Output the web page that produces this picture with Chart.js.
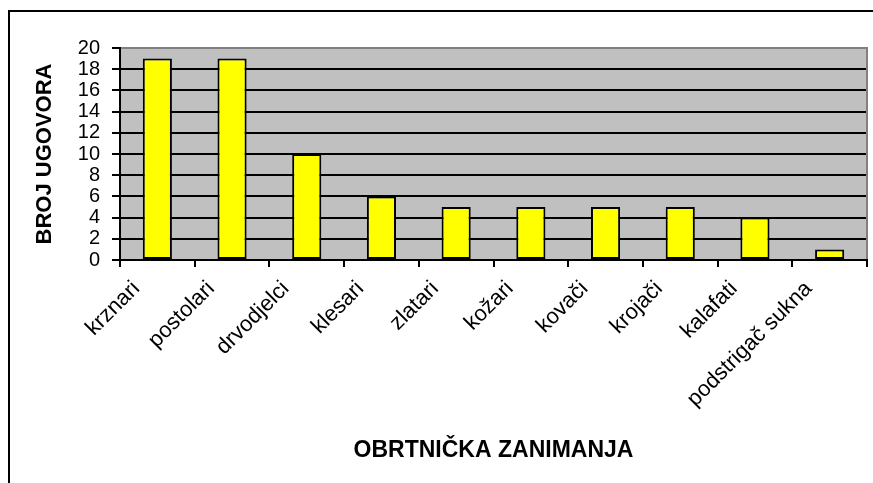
<!DOCTYPE html>
<html>
<head>
<meta charset="utf-8">
<script src="https://cdn.jsdelivr.net/npm/chart.js@4"></script>
<style>
    html, body { margin: 0; padding: 0; background: #fff; }
    canvas { display: block; }
</style>
</head>
<body>
<canvas id="myBarChart" width="873" height="483"></canvas>
<script>
const categories = ['krznari', 'postolari', 'drvodjelci', 'klesari', 'zlatari', 'kožari', 'kovači', 'krojači', 'kalafati', 'podstrigač sukna'];
const contracts = [19, 19, 10, 6, 5, 5, 5, 5, 4, 1];
const yTicks = [0, 2, 4, 6, 8, 10, 12, 14, 16, 18, 20];
const yTitle = 'BROJ UGOVORA';
const xTitle = 'OBRTNIČKA ZANIMANJA';

// gray plot background, gray top/right edge and the outer frame
const plotFrame = {
    id: 'plotFrame',
    beforeDraw: (chart) => {
        const { ctx, chartArea: a } = chart;
        ctx.save();
        ctx.fillStyle = '#000';
        ctx.fillRect(8, 10, 2, chart.height - 10);
        ctx.fillRect(8, 10, chart.width - 8, 2);
        ctx.fillStyle = '#c0c0c0';
        ctx.fillRect(a.left, a.top, a.right - a.left, a.bottom - a.top);
        ctx.restore();
    },
    afterDatasetsDraw: (chart) => {
        const { ctx, chartArea: a } = chart;
        ctx.save();
        ctx.strokeStyle = '#808080';
        ctx.lineWidth = 2;
        ctx.beginPath();
        ctx.moveTo(a.left + 1, a.top);
        ctx.lineTo(a.right, a.top);
        ctx.lineTo(a.right, a.bottom - 1);
        ctx.stroke();
        ctx.restore();
    },
};

const ctx = document.getElementById('myBarChart').getContext('2d');
new Chart(ctx, {
    type: 'bar',
    data: {
        labels: categories,
        datasets: [
            {
                data: contracts,
                backgroundColor: '#ffff00',
                borderColor: '#000',
                borderWidth: 2,
                borderSkipped: false,
                categoryPercentage: 1,
                barPercentage: 0.39,
            },
        ],
    },
    options: {
        responsive: false,
        animation: false,
        devicePixelRatio: 1,
        layout: {
            padding: { left: 34, top: 48, right: 6, bottom: 21 },
        },
        plugins: {
            legend: { display: false },
            tooltip: { enabled: false },
        },
        scales: {
            x: {
                afterFit: (s) => { s.height = 202; },
                grid: {
                    offset: true,
                    drawOnChartArea: false,
                    color: '#000',
                    lineWidth: 2,
                    tickLength: 7,
                },
                border: { color: '#000', width: 2 },
                ticks: {
                    color: '#000',
                    font: { family: 'Liberation Sans, Arial', size: 22 },
                    maxRotation: 45,
                    minRotation: 45,
                    autoSkip: false,
                    padding: 9,
                    labelOffset: -21,
                },
                title: {
                    display: true,
                    text: xTitle,
                    color: '#000',
                    font: { family: 'Liberation Sans, Arial', size: 23, weight: 'bold', lineHeight: 1 },
                    padding: 0,
                },
            },
            y: {
                min: 0,
                max: 20,
                afterFit: (s) => { s.width = 86; },
                afterBuildTicks: (s) => { s.ticks = yTicks.map((v) => ({ value: v })); },
                grid: {
                    color: (c) => (c.tick && c.tick.value === 20 ? '#808080' : '#000'),
                    tickColor: '#000',
                    lineWidth: 2,
                    tickLength: 8,
                },
                border: { color: '#000', width: 2 },
                ticks: {
                    color: '#000',
                    font: { family: 'Liberation Sans, Arial', size: 20 },
                    padding: 12,
                    autoSkip: false,
                },
                title: {
                    display: true,
                    text: yTitle,
                    color: '#000',
                    font: { family: 'Liberation Sans, Arial', size: 22, weight: 'bold', lineHeight: 1 },
                    padding: 0,
                },
            },
        },
    },
    plugins: [plotFrame],
});
</script>
</body>
</html>
